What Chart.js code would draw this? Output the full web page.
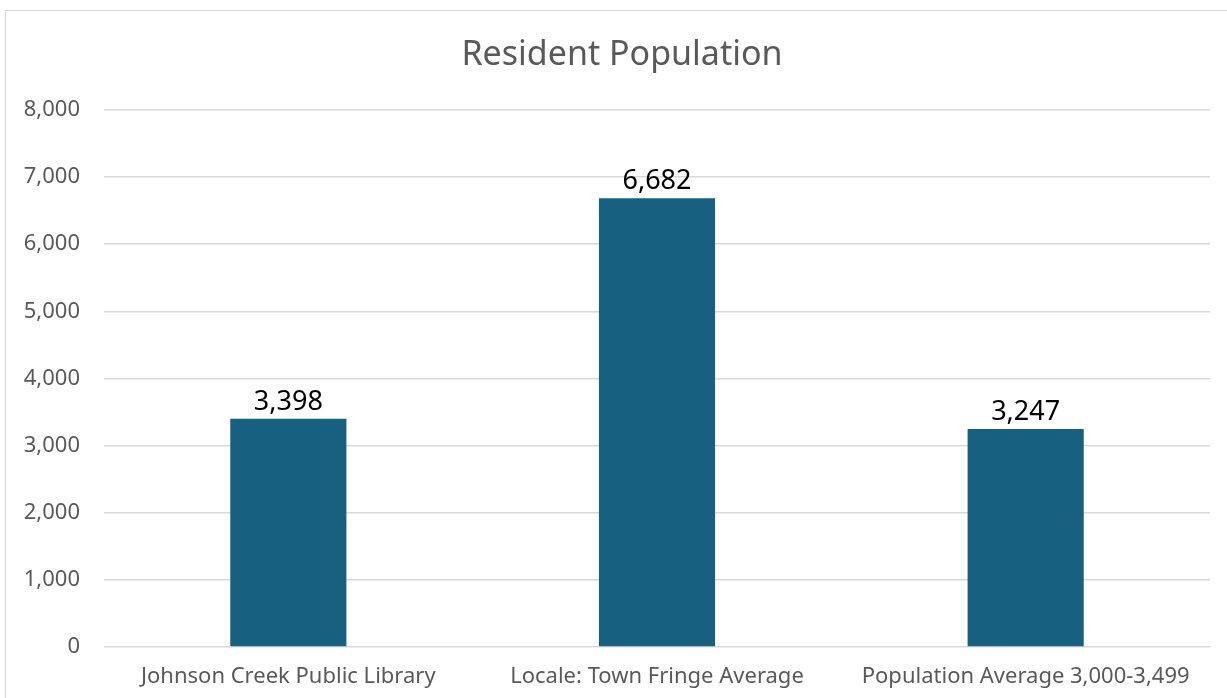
<!DOCTYPE html>
<html>
<head>
<meta charset="utf-8">
<script src="https://cdn.jsdelivr.net/npm/chart.js@4.4.1/dist/chart.umd.min.js"></script>
<style>
  html, body { margin: 0; padding: 0; background: #ffffff; overflow: hidden; }
  #frame { position: absolute; left: 5px; top: 10px; width: 1400px; height: 900px; border: 1.5px solid #d9d9d9; box-sizing: border-box; }
  #wrap { position: absolute; left: 0; top: 0; width: 1227px; height: 698px; }
</style>
</head>
<body>
<div id="frame"></div>
<div id="wrap"><canvas id="c"></canvas></div>
<script>
const categories = ["Johnson Creek Public Library", "Locale: Town Fringe Average", "Population Average 3,000-3,499"];
const population = [3398, 6682, 3247];
const chartTitle = "Resident Population";
const yMin = 0, yMax = 8000, yStep = 1000;

const FONT = "'Noto Sans', 'Open Sans', sans-serif";

const dataLabels = {
  id: 'dataLabels',
  afterLayout(chart) {
    // let the y tick labels extend into the left padding without being clipped
    chart.scales.y.left = 0;
  },
  afterDatasetsDraw(chart) {
    const ctx = chart.ctx;
    const meta = chart.getDatasetMeta(0);
    ctx.save();
    ctx.font = "27px " + FONT;
    ctx.fillStyle = "#000000";
    ctx.textAlign = "center";
    ctx.textBaseline = "alphabetic";
    meta.data.forEach((bar, i) => {
      const v = chart.data.datasets[0].data[i];
      ctx.fillText(v.toLocaleString('en-US'), bar.x, bar.y - 9);
    });
    ctx.restore();
  }
};

new Chart(document.getElementById('c'), {
  type: 'bar',
  data: {
    labels: categories,
    datasets: [{
      data: population,
      backgroundColor: '#17607f',
      barPercentage: 0.315,
      categoryPercentage: 1.0
    }]
  },
  options: {
    responsive: true,
    maintainAspectRatio: false,
    animation: false,
    layout: { padding: { left: 34, right: 17, top: 0, bottom: 0 } },
    plugins: {
      legend: { display: false },
      tooltip: { enabled: false },
      title: {
        display: true,
        text: chartTitle,
        color: '#595959',
        font: { family: FONT, size: 34, weight: 'normal', lineHeight: 1.2 },
        padding: { top: 35, bottom: 34 }
      }
    },
    scales: {
      x: {
        grid: { display: false, drawTicks: false },
        border: { display: false },
        ticks: { color: '#595959', font: { family: FONT, size: 22 }, padding: 17, maxRotation: 0, autoSkip: false },
        afterFit(scale) { scale.height = 51; }
      },
      y: {
        min: yMin, max: yMax,
        grid: { color: '#d9d9d9', lineWidth: 1.5, drawTicks: false },
        border: { display: false },
        ticks: {
          stepSize: yStep,
          color: '#595959',
          font: { family: FONT, size: 22 },
          padding: 24,
          callback: (v) => v.toLocaleString('en-US')
        },
        afterFit(scale) { scale.width = 70; }
      }
    }
  },
  plugins: [dataLabels]
});
</script>
</body>
</html>
